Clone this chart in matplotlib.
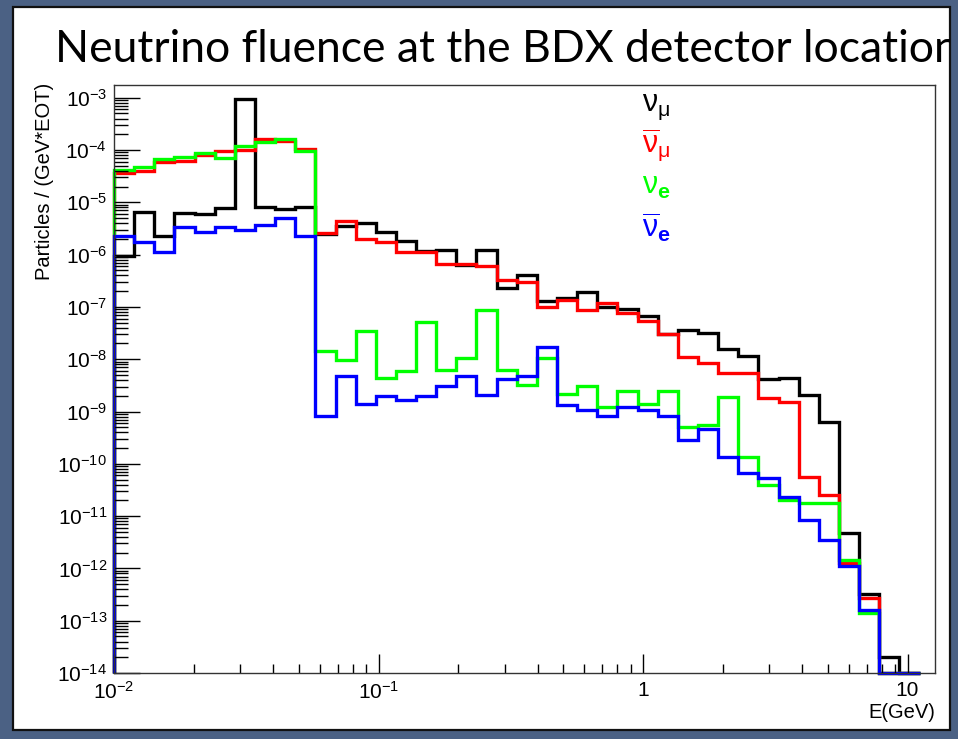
import numpy as np
import matplotlib
matplotlib.use("Agg")
import matplotlib.pyplot as plt
from matplotlib.patches import Rectangle
from matplotlib.ticker import FixedLocator, LogLocator, NullFormatter

plt.rcParams['font.family'] = ['Liberation Sans', 'DejaVu Sans']
plt.rcParams['mathtext.fontset'] = 'custom'
plt.rcParams['mathtext.rm'] = 'Liberation Sans'
plt.rcParams['mathtext.it'] = 'Liberation Sans:italic'
plt.rcParams['mathtext.bf'] = 'Liberation Sans:bold'
plt.rcParams['mathtext.default'] = 'regular'

# 40 log-spaced energy bins (GeV)
e_min, e_max, n_bins = 0.01, 11.1, 40

nu_mu = [0.95e-6, 6.6e-6, 2.3e-6, 6.2e-6, 6.0e-6, 7.9e-6, 9.3e-4, 8.2e-6, 7.3e-6, 8.2e-6,
         2.5e-6, 3.6e-6, 4.1e-6, 2.7e-6, 1.8e-6, 1.15e-6, 1.22e-6, 6.3e-7, 1.22e-6, 2.3e-7,
         4.1e-7, 1.3e-7, 1.5e-7, 1.95e-7, 1.0e-7, 9.0e-8, 6.7e-8, 3.0e-8, 3.6e-8, 3.2e-8,
         1.6e-8, 1.15e-8, 4.1e-9, 4.3e-9, 2.1e-9, 6.4e-10, 4.8e-12, 3.2e-13, 2.05e-14, 0]
nu_mu_bar = [3.6e-5, 4.0e-5, 6.0e-5, 6.2e-5, 7.9e-5, 9.4e-5, 1.0e-4, 1.6e-4, 1.5e-4, 1.06e-4,
             2.6e-6, 4.4e-6, 2.0e-6, 1.77e-6, 1.14e-6, 1.14e-6, 6.5e-7, 6.5e-7, 6.0e-7, 3.3e-7,
             3.0e-7, 1.0e-7, 1.35e-7, 8.7e-8, 1.2e-7, 7.5e-8, 5.4e-8, 3.0e-8, 1.1e-8, 8.6e-9,
             5.4e-9, 5.5e-9, 1.8e-9, 1.54e-9, 5.5e-11, 2.5e-11, 1.29e-12, 2.7e-13, 0, 0]
nu_e = [4.1e-5, 4.7e-5, 6.7e-5, 7.2e-5, 8.9e-5, 7.0e-5, 1.21e-4, 1.4e-4, 1.6e-4, 9.7e-5,
        1.45e-8, 9.7e-9, 3.5e-8, 4.3e-9, 5.9e-9, 5.1e-8, 6.2e-9, 1.07e-8, 8.7e-8, 6.2e-9,
        3.2e-9, 1.04e-8, 2.2e-9, 3.1e-9, 1.24e-9, 2.5e-9, 1.39e-9, 2.5e-9, 5.1e-10, 5.6e-10,
        1.9e-9, 1.33e-10, 3.9e-11, 2.0e-11, 1.75e-11, 1.75e-11, 1.45e-12, 1.4e-13, 0, 0]
nu_e_bar = [2.3e-6, 1.77e-6, 1.14e-6, 3.4e-6, 2.7e-6, 3.4e-6, 2.9e-6, 3.7e-6, 5.1e-6, 2.3e-6,
            8.3e-10, 4.8e-9, 1.37e-9, 2.0e-9, 1.66e-9, 2.0e-9, 3.1e-9, 4.8e-9, 2.1e-9, 4.2e-9,
            4.8e-9, 1.7e-8, 1.33e-9, 1.07e-9, 8.2e-10, 1.2e-9, 1.07e-9, 8.2e-10, 2.85e-10, 4.6e-10,
            1.33e-10, 6.8e-11, 5.3e-11, 2.35e-11, 8.4e-12, 3.5e-12, 1.11e-12, 1.6e-13, 0, 0]

series = [(nu_mu, 'black', r'$\nu_{\mu}$'),
          (nu_mu_bar, '#ff0000', r'$\overline{\nu}_{\mu}$'),
          (nu_e, '#00ff00', r'$\nu_{\mathbf{e}}$'),
          (nu_e_bar, '#0000ff', r'$\overline{\nu}_{\mathbf{e}}$')]

W, H = 958, 739
fig = plt.figure(figsize=(W / 100, H / 100), dpi=100)
fig.patch.set_facecolor('#4b6184')

# white slide panel
panel = Rectangle((13 / W, 1 - 730 / H), (950 - 13) / W, (730 - 7) / H,
                  transform=fig.transFigure, facecolor='white', edgecolor='#111111',
                  linewidth=1.6, zorder=-5)
fig.patches.append(panel)

title = fig.text(55 / W, 1 - 62 / H, 'Neutrino fluence at the BDX detector location',
                 fontsize=32, family=['Lato', 'DejaVu Sans'], va='baseline', ha='left')
title.set_clip_path(panel)

ax = fig.add_axes([114 / W, 1 - 673 / H, (935 - 114) / W, (673 - 85) / H])
ax.set_xscale('log')
ax.set_yscale('log')
ymin, ymax = 1e-14, 1.75e-3
ax.set_xlim(0.01, 12.7)
ax.set_ylim(ymin, ymax)

edges = np.logspace(np.log10(e_min), np.log10(e_max), n_bins + 1)
for vals, col, lab in series:
    v = np.clip(np.array(vals, dtype=float), ymin, None)
    ax.stairs(v, edges, baseline=ymin, color=col, linewidth=2.4, clip_on=False)

for i, (vals, col, lab) in enumerate(series):
    ax.text(0.643, [0.962, 0.899, 0.829, 0.758][i], lab, color=col, fontsize=22,
            transform=ax.transAxes, ha='left', va='center')

for s in ax.spines.values():
    s.set_color('#333333')
    s.set_linewidth(1.0)

ax.xaxis.set_major_locator(FixedLocator([0.01, 0.1, 1, 10]))
ax.set_xticklabels([r'$10^{-2}$', r'$10^{-1}$', '1', '10'])
ax.xaxis.set_minor_locator(LogLocator(base=10, subs=np.arange(2, 10)))
ax.xaxis.set_minor_formatter(NullFormatter())
ax.yaxis.set_major_locator(LogLocator(base=10, numticks=20))
ax.yaxis.set_minor_locator(LogLocator(base=10, subs=np.arange(2, 10), numticks=20))
ax.yaxis.set_minor_formatter(NullFormatter())

ax.tick_params(axis='x', which='major', direction='in', length=13.5, width=1, pad=6,
               labelsize=15, top=False)
ax.tick_params(axis='x', which='minor', direction='in', length=6.5, width=1, top=False)
ax.tick_params(axis='y', which='major', direction='in', length=19, width=1, pad=5,
               labelsize=15, right=False)
ax.tick_params(axis='y', which='minor', direction='in', length=10, width=1, right=False)

fig.text(45 / W, 1 - 83 / H, 'Particles / (GeV*EOT)', rotation=90, fontsize=14.5,
         ha='center', va='top')
ax.text(1.0, -0.068, 'E(GeV)', transform=ax.transAxes, fontsize=14.5,
        ha='right', va='center')

fig.savefig('out.png', dpi=100, facecolor=fig.get_facecolor())
